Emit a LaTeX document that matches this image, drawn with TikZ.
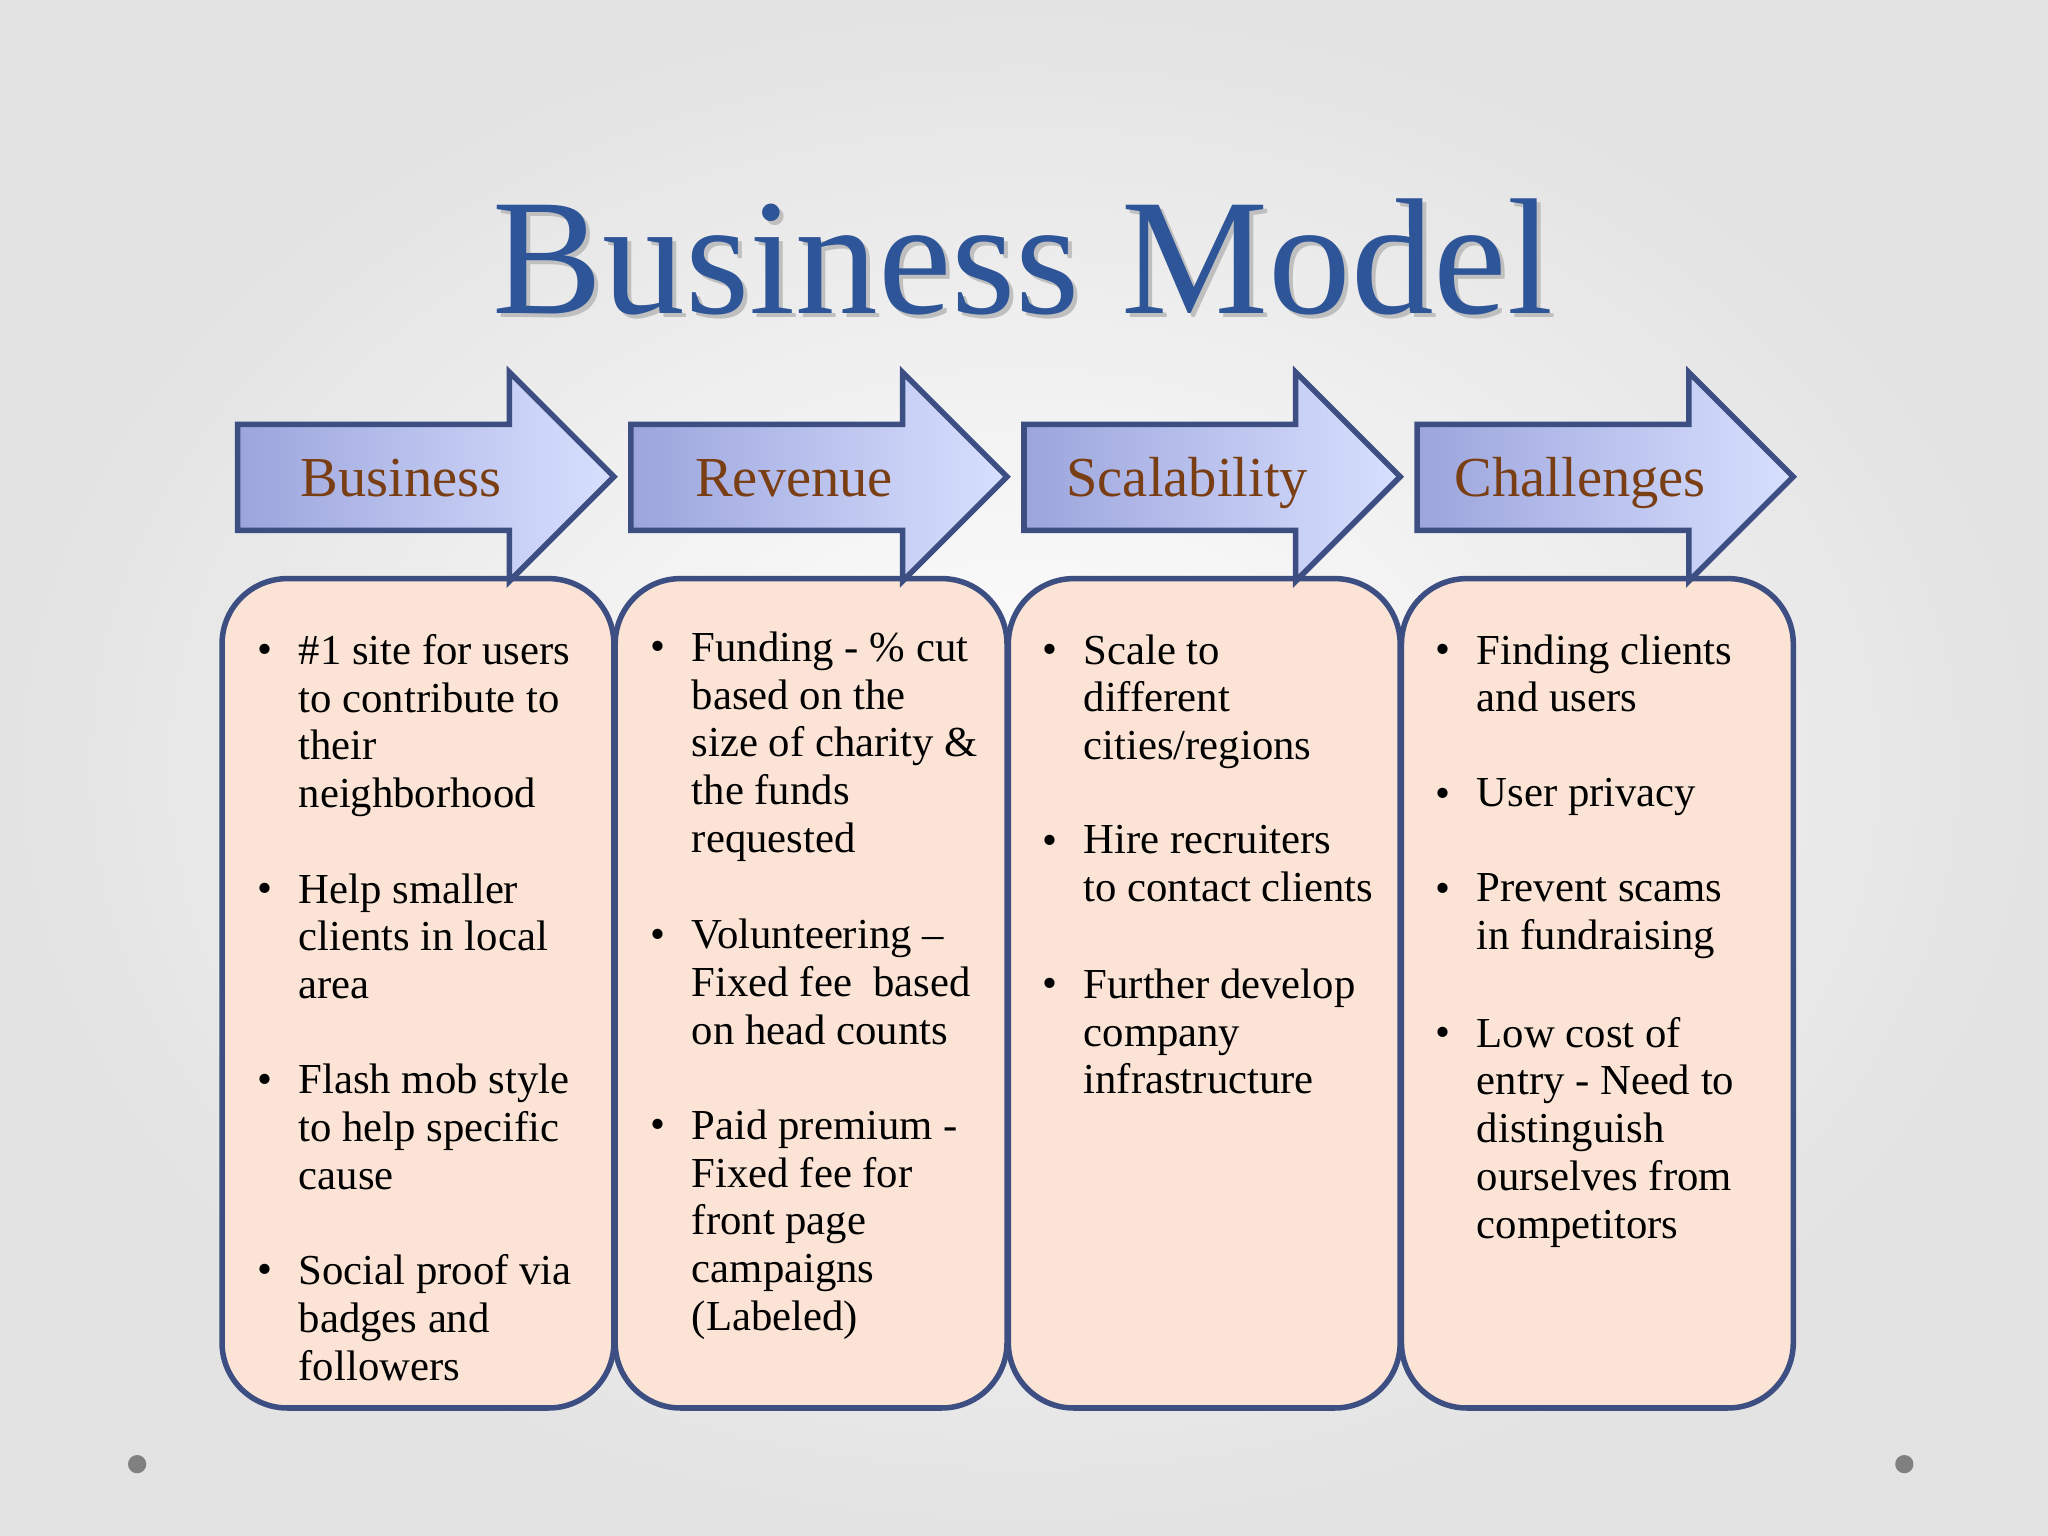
\documentclass[tikz,border=0pt]{standalone}
\usepackage{fontspec}
\setmainfont{Liberation Serif}
\usetikzlibrary{shadings}
\definecolor{titleblue}{HTML}{2E5597}
\definecolor{labbrown}{HTML}{7A3E14}
\definecolor{edge}{HTML}{3D4E82}
\definecolor{boxfill}{HTML}{FBE4D5}
\definecolor{arrL}{HTML}{9CA5DC}
\definecolor{arrR}{HTML}{D8E0FF}
\tikzset{
  boxsty/.style={draw=edge,line width=1.2pt,fill=boxfill,rounded corners=0.5cm},
  arrsty/.style={draw=edge,line width=1.2pt,left color=arrL,right color=arrR,line join=miter},
  lab/.style={text=labbrown,anchor=base,font=\fontsize{12.3}{14}\selectfont},
  item/.style={anchor=north west,align=left,inner sep=0pt,font=\fontsize{9.3}{10.4}\selectfont},
  bul/.style={anchor=base,inner sep=0pt,font=\fontsize{9.3}{10.4}\selectfont}
}
\newcommand{\bitem}[4]{% name, x, y, text
  \node[bul] (#1b) at (#2-25,#3+11) {•};
  \node[item] (#1) at (#2,#3-12) {#4};}
\begin{document}
\begin{tikzpicture}[x=0.01cm,y=-0.01cm]
\useasboundingbox (0,0) rectangle (1568,1176);
\shade[inner color=white,outer color=gray!22] (0,0) rectangle (1568,1176);
\node[text=black!25,font=\fontsize{36}{40}\selectfont] (tsh) at (786,200) {Business Model};
\node[text=titleblue,font=\fontsize{36}{40}\selectfont] (title) at (783,197) {Business Model};
\foreach \i/\lbl in {0/Business,1/Revenue,2/Scalability,3/Challenges}{
  \pgfmathsetmacro{\bx}{170+301*\i}
  \pgfmathsetmacro{\ax}{182+301*\i}
  \draw[boxsty] (\bx,443) rectangle (\bx+300,1078);
  \draw[arrsty] (\ax,325) -- (\ax+208,325) -- (\ax+208,285) -- (\ax+288,365) -- (\ax+208,445) -- (\ax+208,406) -- (\ax,406) -- cycle;
  \node[lab] (lab\i) at (\ax+125,380) {\lbl};
}
\bitem{a1}{228}{497}{\#1 site for users\\to contribute to\\their\\neighborhood}
\bitem{a2}{228}{680}{Help smaller\\clients in local\\area}
\bitem{a3}{228}{826}{Flash mob style\\to help specific\\cause}
\bitem{a4}{228}{972}{Social proof via\\badges and\\followers}
\bitem{b1}{529}{495}{Funding - \% cut\\based on the\\size of charity \&\\the funds\\requested}
\bitem{b2}{529}{715}{Volunteering –\\Fixed fee~ based\\on head counts}
\bitem{b3}{529}{861}{Paid premium -\\Fixed fee for\\front page\\campaigns\\(Labeled)}
\bitem{c1}{829}{497}{Scale to\\different\\cities/regions}
\bitem{c2}{829}{643}{Hire recruiters\\to contact clients}
\bitem{c3}{829}{753}{Further develop\\company\\infrastructure}
\bitem{d1}{1130}{497}{Finding clients\\and users}
\bitem{d2}{1130}{607}{User privacy}
\bitem{d3}{1130}{680}{Prevent scams\\in fundraising}
\bitem{d4}{1130}{790}{Low cost of\\entry - Need to\\distinguish\\ourselves from\\competitors}
\fill[gray] (105,1121) circle (7);
\fill[gray] (1458,1121) circle (7);
\end{tikzpicture}
\end{document}
